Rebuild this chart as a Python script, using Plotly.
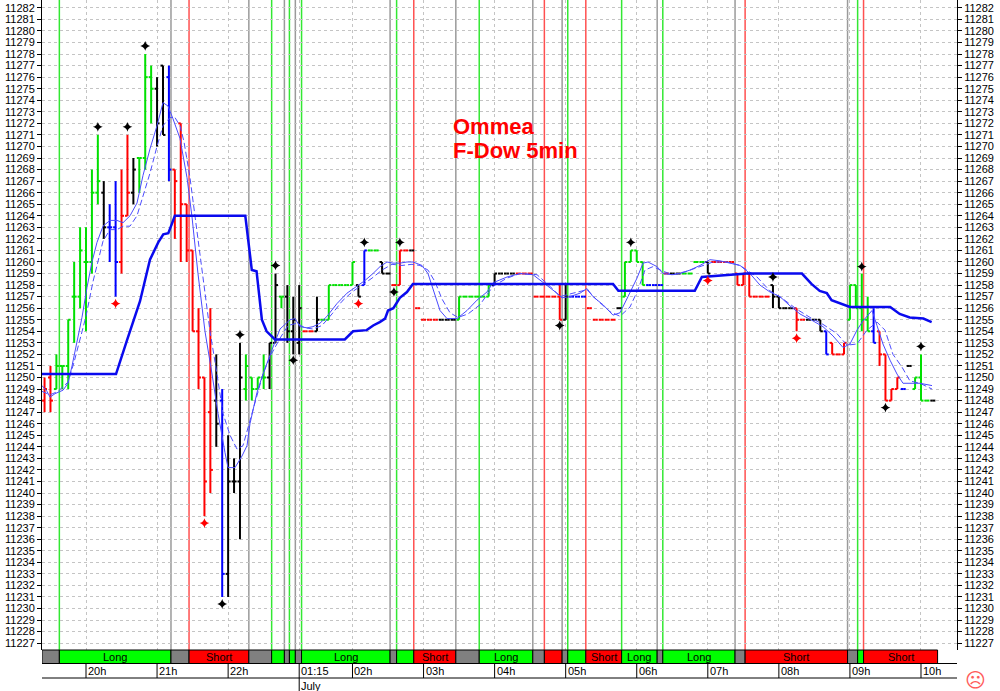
import plotly.graph_objects as go

# ---------------- data ----------------
bar_index = list(range(-7, 144))
bar_color = list(
    "rrgggggggg" "kbbrrkgggk" "kbrrrrrrrk" "bkkkggggkk" "gkkkrrkggg"
    "gggkbggkkr" "rrkrrrrkkk" "ggggggkkkk" "rrrrrrrrkb" "bbrrrrrkgg"
    "ggbbbrkkgg" "ggkrrrrrrr" "rrrkkkkrrk" "kkbrrrgggg" "brrrrbkggg" "k")
bar_open = [
    11248, 11250, 11249, 11251, 11251, 11257, 11257, 11260, 11260, 11266,
    11266, 11263, 11263, 11260, 11264, 11266, 11269, 11269, 11276, 11275,
    11277, 11276, 11268, 11272, 11265, 11261, 11254, 11250, 11247, 11248,
    11248, 11233, 11241, 11241, 11249, 11250, 11249, 11250, 11250, 11253,
    11257, 11257, 11254, 11253, 11254, 11254, 11254, 11255, 11255, 11258,
    11258, 11258, 11258, 11258, 11258, 11261, 11261, 11260, 11259, 11258,
    11258, 11261, 11261, 11256, 11255, 11255, 11255, 11255, 11255, 11255,
    11255, 11257, 11257, 11257, 11257, 11257, 11258, 11259, 11259, 11259,
    11259, 11259, 11259, 11257, 11257, 11257, 11257, 11257, 11255, 11257,
    11257, 11257, 11256, 11255, 11255, 11255, 11255, 11256, 11257, 11260,
    11261, 11260, 11258, 11258, 11258, 11259, 11259, 11259, 11259, 11259,
    11260, 11260, 11260, 11260, 11260, 11260, 11260, 11259, 11258, 11259,
    11257, 11257, 11257, 11258, 11257, 11256, 11256, 11256, 11255, 11255,
    11255, 11255, 11254, 11253, 11252, 11252, 11255, 11258, 11256, 11255,
    11254, 11254, 11252, 11248, 11249, 11249, 11251, 11249, 11250, 11248,
    11248]
bar_high = [
    11250, 11251, 11252, 11251, 11255, 11260, 11263, 11263, 11268, 11271,
    11267, 11265, 11267, 11268, 11271, 11269, 11269, 11278, 11277, 11276,
    11277, 11277, 11268, 11272, 11265, 11261, 11256, 11250, 11256, 11252,
    11249, 11245, 11243, 11253, 11252, 11250, 11250, 11252, 11253, 11259,
    11257, 11258, 11257, 11258, 11254, 11254, 11257, 11255, 11258, 11258,
    11258, 11258, 11260, 11258, 11261, 11261, 11261, 11260, 11259, 11258,
    11261, 11261, 11261, 11256, 11255, 11255, 11255, 11255, 11255, 11255,
    11257, 11257, 11257, 11257, 11257, 11258, 11259, 11259, 11259, 11259,
    11259, 11259, 11259, 11257, 11257, 11257, 11257, 11258, 11258, 11257,
    11257, 11257, 11256, 11255, 11255, 11255, 11255, 11256, 11260, 11261,
    11261, 11260, 11258, 11258, 11258, 11259, 11259, 11259, 11259, 11259,
    11260, 11260, 11260, 11260, 11260, 11260, 11260, 11259, 11259, 11259,
    11257, 11257, 11257, 11258, 11257, 11256, 11256, 11256, 11255, 11255,
    11255, 11255, 11254, 11253, 11252, 11253, 11258, 11258, 11259, 11257,
    11256, 11254, 11252, 11249, 11250, 11249, 11251, 11250, 11252, 11248,
    11248]
bar_low = [
    11247, 11247, 11249, 11249, 11249, 11253, 11256, 11254, 11259, 11265,
    11262, 11260, 11257, 11259, 11264, 11265, 11266, 11268, 11272, 11270,
    11271, 11267, 11262, 11260, 11260, 11254, 11249, 11238, 11240, 11244,
    11231, 11231, 11240, 11236, 11248, 11248, 11249, 11249, 11249, 11253,
    11256, 11253, 11252, 11252, 11254, 11254, 11254, 11255, 11255, 11258,
    11258, 11258, 11258, 11257, 11258, 11261, 11261, 11259, 11259, 11258,
    11258, 11261, 11261, 11256, 11255, 11255, 11255, 11255, 11255, 11255,
    11255, 11257, 11257, 11257, 11257, 11257, 11258, 11259, 11259, 11259,
    11259, 11259, 11259, 11257, 11257, 11257, 11257, 11255, 11255, 11257,
    11257, 11257, 11256, 11255, 11255, 11255, 11255, 11256, 11257, 11260,
    11260, 11258, 11258, 11258, 11258, 11259, 11259, 11259, 11259, 11259,
    11260, 11260, 11259, 11260, 11260, 11260, 11260, 11258, 11258, 11257,
    11257, 11257, 11257, 11256, 11256, 11256, 11256, 11254, 11255, 11255,
    11255, 11254, 11252, 11252, 11252, 11252, 11255, 11256, 11254, 11254,
    11253, 11251, 11248, 11248, 11249, 11249, 11251, 11249, 11248, 11248,
    11248]
bar_close = [
    11249, 11248, 11251, 11251, 11255, 11257, 11261, 11260, 11266, 11267,
    11263, 11263, 11260, 11264, 11266, 11268, 11269, 11276, 11275, 11272,
    11271, 11268, 11267, 11265, 11261, 11254, 11250, 11241, 11242, 11246,
    11233, 11241, 11241, 11250, 11251, 11249, 11250, 11250, 11253, 11258,
    11257, 11254, 11255, 11256, 11254, 11254, 11255, 11255, 11258, 11258,
    11258, 11258, 11260, 11257, 11261, 11261, 11261, 11259, 11259, 11258,
    11261, 11261, 11261, 11256, 11255, 11255, 11255, 11255, 11255, 11255,
    11257, 11257, 11257, 11257, 11257, 11258, 11259, 11259, 11259, 11259,
    11259, 11259, 11259, 11257, 11257, 11257, 11257, 11255, 11257, 11257,
    11257, 11257, 11256, 11255, 11255, 11255, 11255, 11256, 11260, 11261,
    11260, 11258, 11258, 11258, 11258, 11259, 11259, 11259, 11259, 11259,
    11260, 11260, 11259, 11260, 11260, 11260, 11260, 11258, 11259, 11257,
    11257, 11257, 11257, 11257, 11256, 11256, 11256, 11255, 11255, 11255,
    11255, 11254, 11252, 11252, 11252, 11253, 11258, 11256, 11255, 11254,
    11253, 11252, 11248, 11249, 11250, 11249, 11251, 11250, 11248, 11248,
    11248]

# fast (thin solid) and slow (thin dashed) averages, trend (thick) line: (bar index, price)
fast_ma = [(-7.43, 11249.3), (-6.59, 11248.8), (-6.08, 11248.3), (-5.23, 11248.6), (-3.88, 11248.9),
           (-3.04, 11249.5), (-2.36, 11251.0), (-1.52, 11253.2), (-0.68, 11255.2), (0.17, 11257.8),
           (1.01, 11260.0), (1.86, 11261.7), (2.87, 11263.1), (4.05, 11263.6), (5.23, 11263.6),
           (6.25, 11263.4), (7.43, 11264.0), (8.61, 11265.1), (9.63, 11267.5), (10.81, 11269.8),
           (11.99, 11271.8), (13.0, 11273.8), (13.85, 11273.5), (14.69, 11272.4), (15.87, 11270.7),
           (17.06, 11267.3), (17.9, 11263.9), (18.91, 11259.0), (20.09, 11254.0), (21.28, 11250.3),
           (22.29, 11246.9), (23.47, 11243.5), (23.98, 11242.2), (25.16, 11242.2), (26.34, 11243.2),
           (27.19, 11244.1), (27.69, 11246.0), (28.87, 11248.7), (29.89, 11250.3), (31.41, 11252.4),
           (32.76, 11254.2), (34.45, 11255.0), (35.29, 11255.1), (36.14, 11254.4), (37.32, 11254.3),
           (38.33, 11254.4), (39.51, 11254.7), (40.7, 11255.3), (42.38, 11256.4), (44.07, 11257.3),
           (45.76, 11257.9), (47.11, 11258.4), (48.46, 11259.0), (49.65, 11259.6), (50.83, 11260.0),
           (51.84, 11259.9), (53.02, 11259.9), (54.2, 11260.0), (55.22, 11260.0), (56.74, 11259.7),
           (57.75, 11259.0), (58.6, 11257.6), (59.78, 11255.8), (60.96, 11255.1), (62.65, 11255.1),
           (64.34, 11255.8), (66.03, 11256.7), (67.71, 11257.4), (68.73, 11258.2), (71.09, 11258.7),
           (73.29, 11259.0), (75.48, 11258.9), (77.85, 11258.0), (79.53, 11257.3), (80.38, 11256.9),
           (81.73, 11257.0), (83.42, 11257.3), (84.6, 11257.7), (85.61, 11257.0), (87.3, 11256.3),
           (88.99, 11255.4), (90.17, 11255.6), (91.52, 11257.0), (93.04, 11258.6), (94.06, 11259.9),
           (94.9, 11260.0), (96.42, 11259.6), (97.43, 11259.0), (98.95, 11258.9), (100.3, 11259.0),
           (101.99, 11259.3), (103.68, 11259.7), (105.37, 11260.2), (107.06, 11260.1), (108.75, 11259.9),
           (110.44, 11259.7), (112.12, 11259.0), (113.81, 11258.0), (115.5, 11257.4), (117.19, 11257.0),
           (118.88, 11256.2), (120.57, 11255.5), (122.76, 11254.9), (124.45, 11254.4), (126.14, 11253.6),
           (127.83, 11252.6), (129.01, 11252.9), (130.19, 11254.1), (131.21, 11254.9), (132.73, 11255.8),
           (133.57, 11254.5), (134.58, 11252.9), (135.77, 11251.5), (136.95, 11250.3), (137.96, 11249.5),
           (139.14, 11249.5), (140.83, 11249.5), (142.86, 11249.3)]
slow_ma = [(-7.43, 11248.8), (-6.08, 11248.5), (-4.73, 11248.8), (-3.04, 11249.6), (-2.03, 11251.3),
           (-1.01, 11253.3), (0.0, 11255.3), (1.18, 11258.3), (2.87, 11261.8), (4.05, 11262.8),
           (5.23, 11262.8), (6.25, 11263.1), (7.43, 11263.1), (8.61, 11264.0), (9.63, 11265.7),
           (10.81, 11267.7), (11.99, 11270.0), (13.0, 11271.8), (14.18, 11272.5), (15.03, 11272.5),
           (15.87, 11271.8), (16.55, 11270.4), (17.56, 11267.3), (18.74, 11262.7), (19.76, 11258.3),
           (20.94, 11254.0), (22.12, 11250.3), (23.13, 11246.9), (24.32, 11245.0), (25.5, 11243.8),
           (26.51, 11244.1), (27.69, 11246.3), (28.87, 11248.4), (29.89, 11250.3), (31.07, 11251.8),
           (32.76, 11253.4), (34.11, 11254.5), (35.63, 11254.7), (36.98, 11254.3), (38.33, 11254.2),
           (39.85, 11254.5), (41.54, 11255.5), (43.23, 11256.6), (44.92, 11257.4), (46.61, 11258.0),
           (48.29, 11258.6), (49.98, 11259.3), (51.67, 11259.8), (53.36, 11259.7), (55.05, 11259.8),
           (56.4, 11259.7), (57.75, 11259.3), (58.93, 11258.3), (60.11, 11256.8), (61.47, 11255.6),
           (62.82, 11255.2), (64.5, 11255.5), (66.53, 11256.3), (68.73, 11257.9), (71.09, 11258.6),
           (73.29, 11259.0), (76.16, 11258.9), (78.35, 11257.9), (80.04, 11257.0), (82.24, 11257.3),
           (84.6, 11257.6), (86.29, 11256.7), (88.48, 11255.7), (90.17, 11255.3), (91.86, 11256.1),
           (93.21, 11257.6), (94.39, 11259.3), (95.74, 11259.6), (97.43, 11259.2), (99.12, 11258.9),
           (101.49, 11259.2), (103.68, 11259.6), (105.88, 11260.0), (108.24, 11260.0), (110.44, 11259.7),
           (113.31, 11258.7), (115.5, 11257.5), (117.7, 11256.8), (120.06, 11255.9), (122.26, 11255.2),
           (124.45, 11254.6), (126.81, 11253.8), (128.5, 11252.8), (130.19, 11252.9), (131.88, 11254.1),
           (133.57, 11254.8), (134.92, 11254.1), (136.27, 11252.0), (137.79, 11250.9), (139.14, 11249.7),
           (140.83, 11249.5), (142.86, 11249.0)]
trend_line = [(-7.43, 11250.3), (5.07, 11250.3), (6.97, 11253.3), (9.12, 11256.6), (10.8, 11260.2),
              (12.2, 11261.7), (13.05, 11262.4), (13.9, 11262.5), (14.5, 11263.3), (15.0, 11264.0),
              (26.9, 11264.0), (28.0, 11259.3), (28.8, 11259.2), (29.7, 11255.0), (30.5, 11254.0),
              (31.9, 11253.3), (43.7, 11253.3), (45.1, 11254.0), (47.4, 11254.1), (48.5, 11254.5),
              (49.6, 11254.8), (50.5, 11255.1), (51.0, 11255.8), (51.9, 11256.0), (53.0, 11256.9),
              (54.2, 11257.4), (55.2, 11258.1), (89.0, 11258.1), (89.9, 11257.5), (102.8, 11257.5),
              (104.0, 11258.7), (111.6, 11259.0), (120.9, 11259.0), (122.5, 11258.1), (123.9, 11257.5),
              (125.1, 11257.3), (125.9, 11256.7), (127.3, 11256.4), (129.0, 11256.1), (135.8, 11256.1),
              (137.4, 11255.5), (139.1, 11255.2), (141.4, 11255.1), (142.8, 11254.8)]

# signal markers
peak_x = [2, 7, 10, 26, 32, 47, 53, 92, 116, 131, 141]
peak_y = [11271.7, 11271.7, 11278.7, 11253.7, 11259.7, 11261.7, 11261.7, 11261.7, 11258.7, 11259.6, 11252.7]
trough_x = [23, 35, 52, 80, 135]
trough_y = [11230.4, 11251.5, 11257.4, 11254.5, 11247.4]
red_x = [5, 20, 46, 105, 120]
red_y = [11256.4, 11237.4, 11256.4, 11258.4, 11253.4]

# position changes: L = long, S = short, F = flat
signal_pos = [-4.5, 14.35, 17.4, 27.5, 31.35, 33.5, 34.35, 35.35, 36.4, 51.35, 52.45, 55.35,
              62.45, 66.4, 75.45, 77.4, 80.4, 81.35, 84.4, 90.45, 96.45, 97.4, 109.6, 111.3,
              128.6, 130.3, 131.3]
signal_kind = ["L", "F", "S", "F", "L", "F", "L", "F", "L", "F", "L", "S",
               "F", "L", "F", "S", "F", "L", "S", "L", "F", "L", "F", "S",
               "F", "L", "S"]
data_end = 143.8

tick_pos = [0, 12, 24, 36, 45, 57, 69, 81, 93, 105, 117, 129, 141]
tick_text = ["20h", "21h", "22h", "01:15", "02h", "03h", "04h", "05h", "06h", "07h", "08h", "09h", "10h"]

# ---------------- figure ----------------
W, H = 1000, 691
FONT = "Liberation Sans, Arial, sans-serif"
X_RANGE = [-7.43, 147.08]
Y_RANGE = [11226.41, 11282.68]


def py(px):
    return 1 - px / H


bar_rgb = {"g": "#00e000", "r": "#ff0000", "k": "#000000", "b": "#0000ff"}
TW = 0.42
fig = go.Figure()

for code, rgb in bar_rgb.items():
    xs, ys = [], []
    for i, c, o, h, l, cl in zip(bar_index, bar_color, bar_open, bar_high, bar_low, bar_close):
        if c != code:
            continue
        if h > l:
            xs += [i, i, None]
            ys += [l, h, None]
        xs += [i - TW, i, None, i, i + TW, None]
        ys += [o, o, None, cl, cl, None]
    fig.add_trace(go.Scatter(x=xs, y=ys, mode="lines", line=dict(color=rgb, width=2),
                             hoverinfo="skip", showlegend=False))

fig.add_trace(go.Scatter(x=[p[0] for p in slow_ma], y=[p[1] for p in slow_ma], mode="lines",
                         line=dict(color="#4d4dff", width=1, dash="6px,3px"), showlegend=False))
fig.add_trace(go.Scatter(x=[p[0] for p in fast_ma], y=[p[1] for p in fast_ma], mode="lines",
                         line=dict(color="#4a4aff", width=1), showlegend=False))
fig.add_trace(go.Scatter(x=[p[0] for p in trend_line], y=[p[1] for p in trend_line], mode="lines",
                         line=dict(color="#0a0aee", width=2.5), showlegend=False, yaxis="y2"))

for xs, ys, col in [(peak_x, peak_y, "#000000"), (trough_x, trough_y, "#000000"), (red_x, red_y, "#ff0000")]:
    fig.add_trace(go.Scatter(x=xs, y=ys, mode="markers",
                             marker=dict(symbol="star-diamond", size=7, color=col, line=dict(width=0)),
                             showlegend=False, yaxis="y2"))

shapes = []
annotations = []
sig_line_col = {"L": "#33e833", "S": "#ff5050", "F": "#9a9a9a"}
strip_col = {"L": "#00ff00", "S": "#ff0000", "F": "#808080"}
strip_txt = {"L": "Long", "S": "Short", "F": ""}

for p, k in zip(signal_pos, signal_kind):
    shapes.append(dict(type="line", xref="x", yref="y domain", x0=p, x1=p, y0=0, y1=1,
                       line=dict(color=sig_line_col[k], width=1.5), layer="below"))

bounds = [X_RANGE[0]] + signal_pos + [data_end]
kinds = ["F"] + signal_kind
for j, k in enumerate(kinds):
    x0, x1 = bounds[j], bounds[j + 1]
    shapes.append(dict(type="rect", xref="x", yref="paper", x0=x0, x1=x1, y0=py(663.5), y1=py(650),
                       fillcolor=strip_col[k], line=dict(color="#000000", width=1), layer="above"))
    if strip_txt[k] and (x1 - x0) > 5:
        annotations.append(dict(x=(x0 + x1) / 2, y=py(657), xref="x", yref="paper", text=strip_txt[k],
                                showarrow=False, font=dict(size=11, family=FONT, color="#000000"),
                                xanchor="center", yanchor="middle"))

shapes.append(dict(type="line", xref="paper", yref="paper", x0=0, x1=1, y0=py(663.5), y1=py(663.5),
                   line=dict(color="#000000", width=1)))
shapes.append(dict(type="line", xref="paper", yref="paper", x0=0, x1=1, y0=py(678), y1=py(678),
                   line=dict(color="#000000", width=1)))
for p, t in zip(tick_pos, tick_text):
    bottom = py(691) if t == "01:15" else py(678)
    shapes.append(dict(type="line", xref="x", yref="paper", x0=p, x1=p, y0=py(663.5), y1=bottom,
                       line=dict(color="#000000", width=1)))
    annotations.append(dict(x=p, y=py(671), xref="x", yref="paper", text=t, showarrow=False,
                            xanchor="left", yanchor="middle", xshift=0,
                            font=dict(size=11, family=FONT, color="#000000")))
annotations.append(dict(x=36, y=py(686), xref="x", yref="paper", text="July", showarrow=False,
                        xanchor="left", yanchor="middle", font=dict(size=11, family=FONT, color="#000000")))

annotations.append(dict(x=(451 - 42) / 915, y=py(127), xref="paper", yref="paper", text="<b>Ommea</b>",
                        showarrow=False, xanchor="left", yanchor="middle",
                        font=dict(size=22, family=FONT, color="#ff0000")))
annotations.append(dict(x=(451 - 42) / 915, y=py(150), xref="paper", yref="paper", text="<b>F-Dow 5min</b>",
                        showarrow=False, xanchor="left", yanchor="middle",
                        font=dict(size=22, family=FONT, color="#ff0000")))
annotations.append(dict(x=(975 - 42) / 915, y=py(680), xref="paper", yref="paper", text="☹",
                        showarrow=False, xanchor="center", yanchor="middle",
                        font=dict(size=20, family="DejaVu Sans", color="#ff5a5a")))

yax = dict(range=Y_RANGE, domain=[py(650), 1], tickmode="linear", tick0=11227, dtick=1,
           tickformat="d", ticks="outside", ticklen=4, tickcolor="#000000", showline=True,
           linecolor="#000000", linewidth=1, zeroline=False, automargin=False, fixedrange=True,
           tickfont=dict(size=11, family=FONT, color="#000000"))

fig.update_layout(
    width=W, height=H,
    margin=dict(l=42, r=43, t=0, b=0, pad=0),
    template="none",
    paper_bgcolor="#ffffff", plot_bgcolor="#ffffff",
    showlegend=False,
    xaxis=dict(range=X_RANGE, tickmode="array", tickvals=tick_pos, showticklabels=False, ticks="",
               showgrid=True, gridcolor="#c4c4c4", griddash="3px,3px", gridwidth=1,
               zeroline=False, showline=False, automargin=False, fixedrange=True),
    yaxis=dict(**yax, side="left", showgrid=True, gridcolor="#c4c4c4", griddash="3px,3px", gridwidth=1),
    yaxis2=dict(**yax, side="right", overlaying="y", anchor="x", showgrid=False),
    shapes=shapes,
    annotations=annotations,
)

fig.write_html("out.html", config={"displayModeBar": False, "staticPlot": True},
               post_script="document.body.style.margin='0';document.body.style.overflow='hidden';")
